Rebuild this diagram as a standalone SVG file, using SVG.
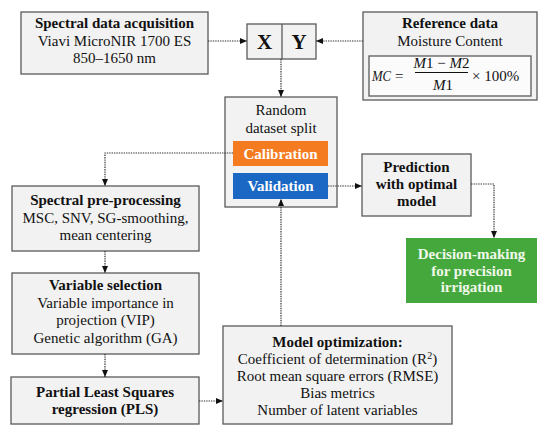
<svg xmlns="http://www.w3.org/2000/svg" width="550" height="432" viewBox="0 0 550 432" font-family="'Liberation Serif', 'DejaVu Serif', serif">
<defs>
<marker id="ah" markerUnits="userSpaceOnUse" markerWidth="8" markerHeight="8" viewBox="0 0 8 8" refX="7" refY="4" orient="auto">
<path d="M0,1 L7,4 L0,7 Z" fill="#111"/>
</marker>
<style>
.box{fill:#F2F2F2;stroke:#5a5a5a;stroke-width:1.3}
.t{font-size:15px;fill:#111;text-anchor:middle}
.b{font-weight:bold}
.big{font-size:21px}
.w{fill:#fff}
.g{fill:#F0F8EA}
.c{fill:none;stroke:#333;stroke-width:1.2;stroke-dasharray:1.4 1;marker-end:url(#ah)}
.m{font-size:15px;fill:#111}
.i{font-style:italic}
</style>
</defs>
<rect width="550" height="432" fill="#fff"/>

<g id="acquisition">
<rect class="box" x="21" y="12" width="187" height="62"/>
<text class="t b" x="114.5" y="28">Spectral data acquisition</text>
<text class="t" x="114.5" y="46">Viavi MicroNIR 1700 ES</text>
<text class="t" x="114.5" y="63">850–1650 nm</text>
</g>

<g id="xy">
<rect class="box" x="247" y="24" width="69" height="35"/>
<line x1="282" y1="24" x2="282" y2="59" stroke="#5a5a5a" stroke-width="1.3"/>
<text class="t b big" x="264.5" y="49">X</text>
<text class="t b big" x="299" y="49">Y</text>
</g>

<g id="reference">
<rect class="box" x="363" y="12" width="174" height="88"/>
<text class="t b" x="450" y="28">Reference data</text>
<text class="t" x="450" y="46">Moisture Content</text>
<rect x="369" y="56" width="162" height="40" fill="#FBFBFB" stroke="#5a5a5a" stroke-width="1.3"/>
<text class="m i" x="372" y="81" textLength="19" lengthAdjust="spacingAndGlyphs">MC</text>
<text class="m" x="395" y="81">=</text>
<text class="m" x="441.5" y="68" text-anchor="middle"><tspan font-style="italic">M</tspan>1 − <tspan font-style="italic">M</tspan>2</text>
<line x1="415" y1="72.5" x2="468" y2="72.5" stroke="#111" stroke-width="1"/>
<text class="m" x="443" y="90" text-anchor="middle"><tspan font-style="italic">M</tspan>1</text>
<text class="m" x="472" y="81">× 100%</text>
</g>

<g id="split">
<rect class="box" x="225" y="97" width="112" height="110"/>
<text class="t" x="281" y="115">Random</text>
<text class="t" x="281" y="133">dataset split</text>
<rect x="233" y="141" width="95" height="25" fill="#F47B20"/>
<text class="t b w" x="280.5" y="158.5">Calibration</text>
<rect x="233" y="173" width="95" height="26" fill="#1A68C4"/>
<text class="t b w" x="280.5" y="191">Validation</text>
</g>

<g id="prediction">
<rect class="box" x="362" y="154" width="109" height="62"/>
<text class="t b" x="416.5" y="172">Prediction</text>
<text class="t b" x="416.5" y="189">with optimal</text>
<text class="t b" x="416.5" y="206">model</text>
</g>

<g id="decision">
<rect x="406" y="238" width="131" height="65" fill="#45A83D"/>
<text class="t b g" x="471.5" y="259">Decision-making</text>
<text class="t b g" x="471.5" y="276">for precision</text>
<text class="t b g" x="471.5" y="292">irrigation</text>
</g>

<g id="preprocessing">
<rect class="box" x="12" y="186" width="187" height="65"/>
<text class="t b" x="105.5" y="205">Spectral pre-processing</text>
<text class="t" x="105.5" y="223">MSC, SNV, SG-smoothing,</text>
<text class="t" x="105.5" y="240">mean centering</text>
</g>

<g id="selection">
<rect class="box" x="12" y="273" width="187" height="81"/>
<text class="t b" x="105.5" y="290">Variable selection</text>
<text class="t" x="105.5" y="308">Variable importance in</text>
<text class="t" x="105.5" y="325">projection (VIP)</text>
<text class="t" x="105.5" y="343">Genetic algorithm (GA)</text>
</g>

<g id="pls">
<rect class="box" x="11" y="377" width="188" height="47"/>
<text class="t b" x="105" y="397">Partial Least Squares</text>
<text class="t b" x="105" y="414">regression (PLS)</text>
</g>

<g id="optimization">
<rect class="box" x="223" y="326" width="229" height="98"/>
<text class="t b" x="337.5" y="347">Model optimization:</text>
<text class="t" x="337.5" y="364">Coefficient of determination (R<tspan font-size="10" dy="-5">2</tspan><tspan dy="5">)</tspan></text>
<text class="t" x="337.5" y="381">Root mean square errors (RMSE)</text>
<text class="t" x="337.5" y="398">Bias metrics</text>
<text class="t" x="337.5" y="415">Number of latent variables</text>
</g>

<g id="connectors">
<path class="c" d="M208,41 H247"/>
<path class="c" d="M363,41 H316"/>
<path class="c" d="M281,59 V97"/>
<path class="c" d="M233,153 H105 V186"/>
<path class="c" d="M105,251 V273"/>
<path class="c" d="M105,354 V377"/>
<path class="c" d="M199,401 H223"/>
<path class="c" d="M281,326 V199"/>
<path class="c" d="M328,186 H362"/>
<path class="c" d="M471,184 H494 V238"/>
</g>
</svg>
